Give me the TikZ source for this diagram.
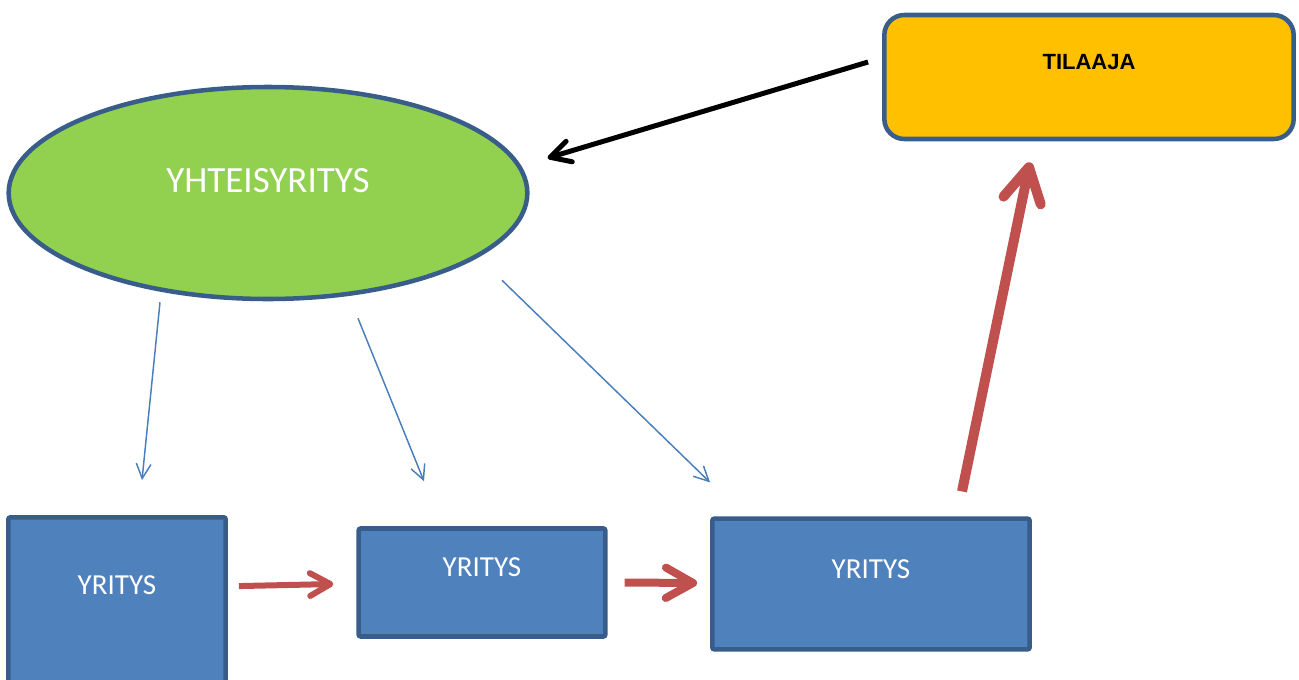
\documentclass[tikz,border=0pt]{standalone}
\usepackage{fontspec}
\setmainfont{Carlito}
\newfontfamily\tilfont{Liberation Sans}
\usetikzlibrary{arrows.meta,calc,shapes.geometric}
\definecolor{rimblue}{HTML}{385D8A}
\definecolor{firmblue}{HTML}{4F81BD}
\definecolor{jointgreen}{HTML}{92D050}
\definecolor{clientyellow}{HTML}{FFC000}
\definecolor{flowred}{HTML}{C0504D}
\definecolor{thinblue}{HTML}{4A7EBB}
\tikzset{
	firm/.style={draw=rimblue, fill=firmblue, line width=3.4pt, inner sep=0pt,
		rounded corners=1.5pt, text=white,
		font=\fontsize{21.75}{26}\selectfont, text height=14pt, text depth=22.5pt},
	joint/.style={ellipse, draw=rimblue, fill=jointgreen, line width=3.4pt, inner sep=0pt,
		minimum width=389pt, minimum height=159pt, text=white,
		font=\fontsize{27.75}{33}\selectfont, text height=17.9pt, text depth=18pt},
	client/.style={draw=rimblue, fill=clientyellow, line width=3.4pt, inner sep=0pt,
		rounded corners=15pt, minimum width=307pt, minimum height=93pt,
		font=\tilfont\bfseries\fontsize{16.5}{20}\selectfont, text height=11.8pt, text depth=22.5pt},
	task/.style={draw=thinblue, line width=1.1pt, -{Straight Barb[length=11pt,width=11pt]}},
	order/.style={draw=black, line width=3.75pt, -{Straight Barb[length=15pt,width=16pt,round]}},
	flow/.style={draw=flowred, line width=#1, -{Straight Barb[length=3.4*#1,width=3.8*#1,round]}},
	flow/.default=4.5pt
}
\begin{document}
\begin{tikzpicture}[x=0.75pt, y=-0.75pt]
	\useasboundingbox (0,0) rectangle (1299,679);
	% nodes
	\node[joint] (yht) at (268,193) {YHTEISYRITYS};
	\node[client] (tilaaja) at (1089,77) {TILAAJA};
	\node[firm, minimum width=163pt, minimum height=124pt] (firmA) at (117,600) {YRITYS};
	\node[firm, minimum width=185pt, minimum height=81pt] (firmB) at (482,582.5) {YRITYS};
	\node[firm, minimum width=238pt, minimum height=98pt] (firmC) at (871,584) {YRITYS};
	% orders and tasks
	\draw[order] ($(tilaaja.west)+(-14,-15)$) -- ($(yht.east)+(18,-35)$);
	\draw[task] ($(yht.south)+(-108,1)$) -- ($(firmA.north)+(25,-35)$);
	\draw[task] ($(yht.south)+(90,17)$) -- ($(firmB.north)+(-58,-45)$);
	\draw[task] ($(yht.south)+(234,-21)$) -- ($(firmC.north west)+(0,-34)$);
	% deliveries
	\draw[flow] ($(firmA.north east)+(11,71)$) -- ($(firmB.west)+(-23,1.5)$);
	\draw[flow=6pt] ($(firmB.east)+(17,0)$) -- ($(firmC.west)+(-13,-1)$);
	\draw[flow=7.5pt] ($(firmC.north)+(91,-25)$) -- ($(tilaaja.south)+(-59,21)$);
\end{tikzpicture}
\end{document}
